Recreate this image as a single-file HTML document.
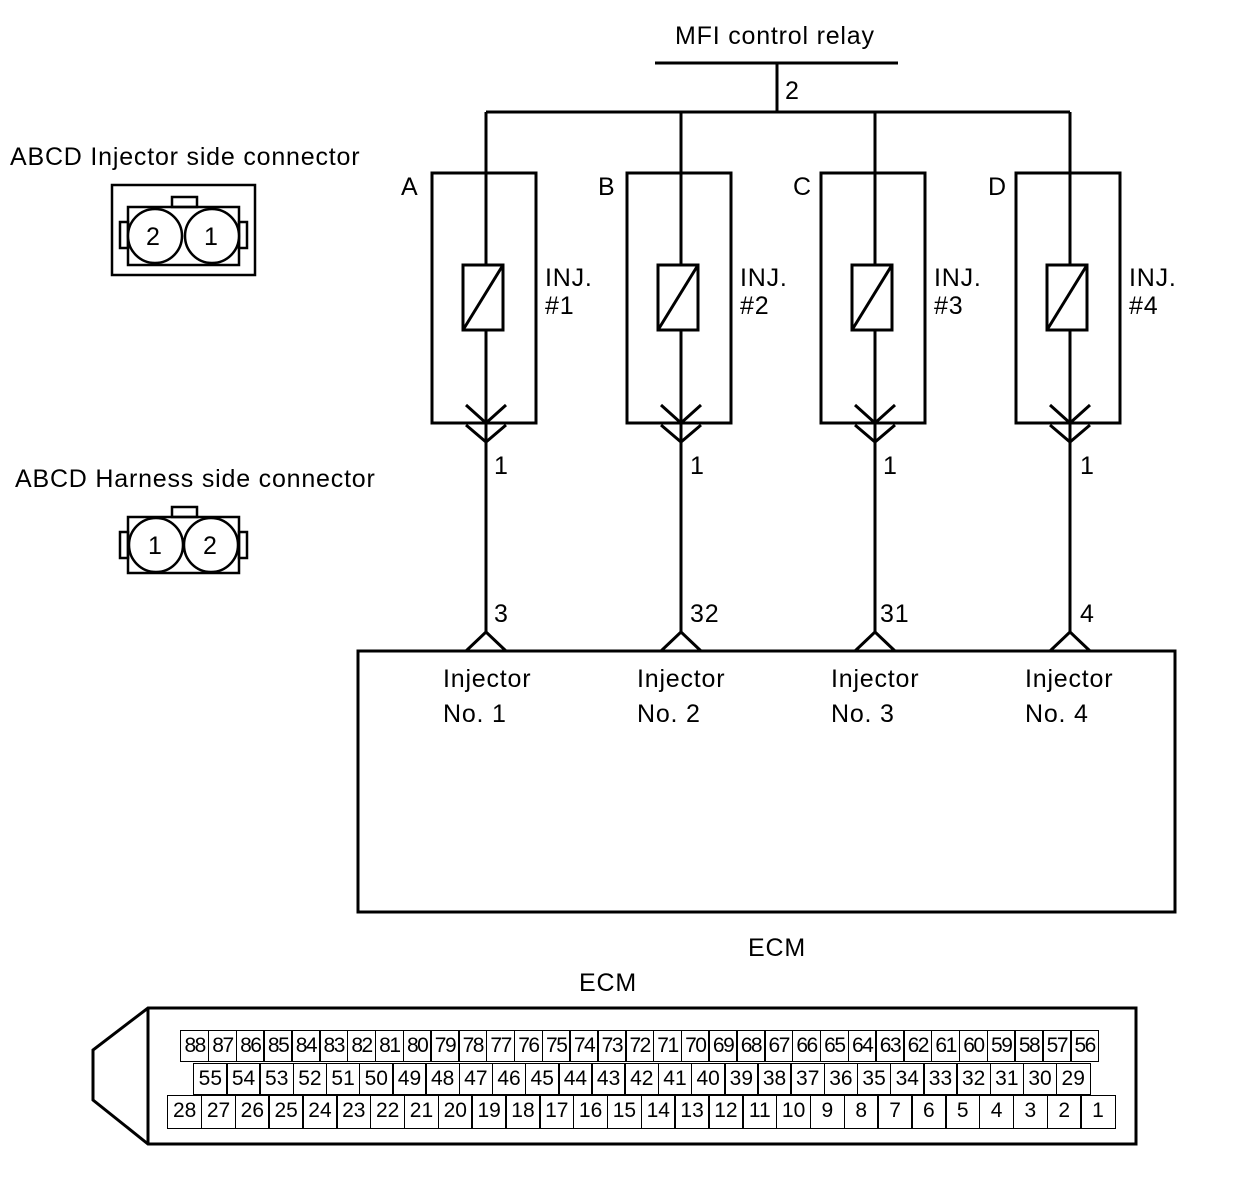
<!DOCTYPE html>
<html><head><style>
body{margin:0;background:#fff;}
.w{position:relative;width:1248px;height:1178px;font-family:"Liberation Sans",sans-serif;}
svg{position:absolute;left:0;top:0}
.t{position:absolute;font-size:25px;letter-spacing:0.8px;line-height:1;color:#000;}
.row{position:absolute;display:flex;font-family:"Liberation Sans",sans-serif;}
.row div{flex:1;border:1.5px solid #000;margin-right:-1.5px;text-align:center;font-size:21px;line-height:29px;box-sizing:border-box;}
</style></head><body><div class="w">
<svg width="1248" height="1178" stroke="#000" stroke-width="3" fill="none">
<line x1="655" y1="63" x2="898" y2="63"/>
<line x1="777" y1="63" x2="777" y2="112"/>
<line x1="486" y1="112" x2="1070" y2="112"/>
<g id="a">
<line x1="486" y1="112" x2="486" y2="265"/>
<rect x="432" y="173" width="104" height="250"/>
<rect x="463" y="265" width="40" height="65"/>
<line x1="463" y1="330" x2="503" y2="265"/>
<line x1="486" y1="330" x2="486" y2="632"/>
<polyline points="466,405 486,423 506,405"/>
<polyline points="466,425 486,442 506,425"/>
<polyline points="466,651 486,632 506,651"/>
</g>
<use href="#a" x="195"/><use href="#a" x="389"/><use href="#a" x="584"/>
<rect x="358" y="651" width="817" height="261"/>
<path d="M148,1008 L1136,1008 L1136,1144 L148,1144 L93,1100 L93,1050 Z"/>
<line x1="148" y1="1008" x2="148" y2="1144"/>
<g stroke-width="2.5">
<rect x="112" y="185" width="143" height="90"/>
<rect x="128" y="207" width="111" height="58"/>
<rect x="172" y="197" width="25" height="10"/>
<rect x="120" y="222" width="8" height="26"/><rect x="239" y="222" width="8" height="26"/>
<circle cx="155" cy="236" r="27" fill="#fff"/><circle cx="212" cy="236" r="27" fill="#fff"/>
<rect x="128" y="517" width="111" height="56"/>
<rect x="172" y="507" width="25" height="10"/>
<rect x="120" y="532" width="8" height="26"/><rect x="239" y="532" width="8" height="26"/>
<circle cx="156" cy="545" r="27" fill="#fff"/><circle cx="211" cy="545" r="27" fill="#fff"/>
</g>
</svg>
<div class="t" style="left:675px;top:24px">MFI control relay</div>
<div class="t" style="left:785px;top:79px">2</div>
<div class="t" style="left:10px;top:145px">ABCD Injector side connector</div>
<div class="t" style="left:15px;top:467px">ABCD Harness side connector</div>
<div class="t" style="left:146px;top:225px">2</div><div class="t" style="left:204px;top:225px">1</div>
<div class="t" style="left:148px;top:534px">1</div><div class="t" style="left:203px;top:534px">2</div>
<div class="t" style="left:401px;top:175px">A</div><div class="t" style="left:598px;top:175px">B</div>
<div class="t" style="left:793px;top:175px">C</div><div class="t" style="left:988px;top:175px">D</div>
<div class="t" style="left:545px;top:264px;line-height:28px">INJ.<br>#1</div>
<div class="t" style="left:740px;top:264px;line-height:28px">INJ.<br>#2</div>
<div class="t" style="left:934px;top:264px;line-height:28px">INJ.<br>#3</div>
<div class="t" style="left:1129px;top:264px;line-height:28px">INJ.<br>#4</div>
<div class="t" style="left:494px;top:454px">1</div><div class="t" style="left:690px;top:454px">1</div>
<div class="t" style="left:883px;top:454px">1</div><div class="t" style="left:1080px;top:454px">1</div>
<div class="t" style="left:494px;top:602px">3</div><div class="t" style="left:690px;top:602px">32</div>
<div class="t" style="left:880px;top:602px">31</div><div class="t" style="left:1080px;top:602px">4</div>
<div class="t" style="left:443px;top:662px;line-height:35px">Injector<br>No. 1</div>
<div class="t" style="left:637px;top:662px;line-height:35px">Injector<br>No. 2</div>
<div class="t" style="left:831px;top:662px;line-height:35px">Injector<br>No. 3</div>
<div class="t" style="left:1025px;top:662px;line-height:35px">Injector<br>No. 4</div>
<div class="t" style="left:748px;top:936px">ECM</div>
<div class="t" style="left:579px;top:971px">ECM</div>
<div class="row" style="left:180px;top:1030px;width:918px;height:32px;letter-spacing:-1.5px">
<div>88</div><div>87</div><div>86</div><div>85</div><div>84</div><div>83</div><div>82</div><div>81</div><div>80</div><div>79</div><div>78</div><div>77</div><div>76</div><div>75</div><div>74</div><div>73</div><div>72</div><div>71</div><div>70</div><div>69</div><div>68</div><div>67</div><div>66</div><div>65</div><div>64</div><div>63</div><div>62</div><div>61</div><div>60</div><div>59</div><div>58</div><div>57</div><div>56</div></div>
<div class="row" style="left:193px;top:1063px;width:896px;height:32px">
<div>55</div><div>54</div><div>53</div><div>52</div><div>51</div><div>50</div><div>49</div><div>48</div><div>47</div><div>46</div><div>45</div><div>44</div><div>43</div><div>42</div><div>41</div><div>40</div><div>39</div><div>38</div><div>37</div><div>36</div><div>35</div><div>34</div><div>33</div><div>32</div><div>31</div><div>30</div><div>29</div></div>
<div class="row" style="left:167px;top:1095px;width:947px;height:34px">
<div>28</div><div>27</div><div>26</div><div>25</div><div>24</div><div>23</div><div>22</div><div>21</div><div>20</div><div>19</div><div>18</div><div>17</div><div>16</div><div>15</div><div>14</div><div>13</div><div>12</div><div>11</div><div>10</div><div>9</div><div>8</div><div>7</div><div>6</div><div>5</div><div>4</div><div>3</div><div>2</div><div>1</div></div>
</div></body></html>
